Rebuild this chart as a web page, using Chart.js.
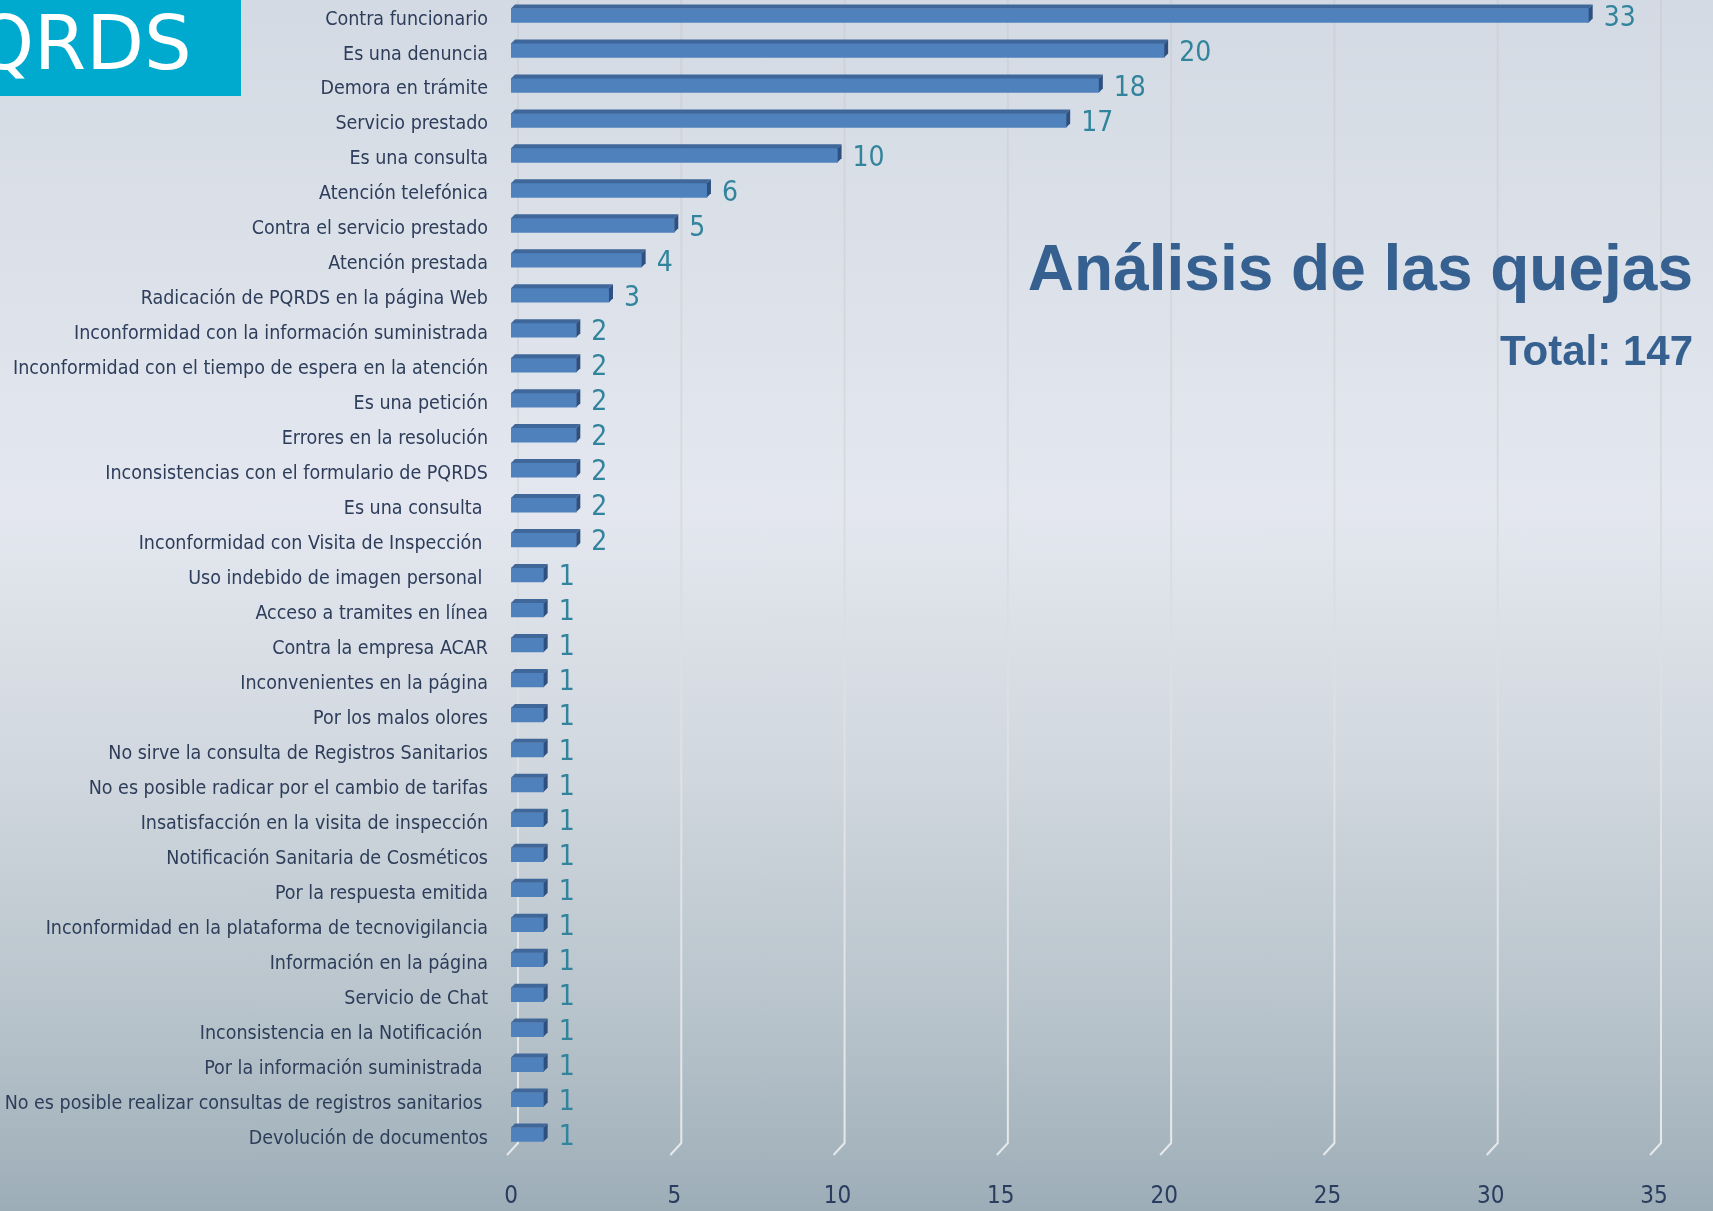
<!DOCTYPE html>
<html>
<head>
<meta charset="utf-8">
<script src="https://cdn.jsdelivr.net/npm/chart.js@4.4.1/dist/chart.umd.min.js"></script>
<style>
  html, body { margin: 0; padding: 0; }
  body {
    width: 1713px; height: 1211px; overflow: hidden; position: relative;
    background: linear-gradient(to bottom, #d3dae3 0%, #dde2ea 25%, #e4e7ef 42%, #cfd6dd 65%, #b6c2ca 85%, #9dadb7 100%);
  }
  #wrap { position: absolute; left: 0; top: -2px; width: 1713px; height: 1213px; }
  .badge {
    position: absolute; left: 0; top: 0; width: 241px; height: 96px;
    background: #00a9ce; overflow: hidden;
  }
  .badge span {
    position: absolute; left: -25px; top: -1px; line-height: 75px;
    font: 75px "DejaVu Sans", sans-serif; color: #fff; white-space: nowrap;
  }
  .title, .total {
    position: absolute; right: 20px; color: #35608f; white-space: nowrap;
    font-family: "Liberation Sans", Arial, sans-serif; font-weight: bold;
  }
  .title { top: 236px; font-size: 64px; line-height: 64px; }
  .total { top: 330px; font-size: 42px; line-height: 42px; }
</style>
</head>
<body>
<div id="wrap"><canvas id="chart"></canvas></div>
<div class="badge"><span>QRDS</span></div>
<div class="title">Análisis de las quejas</div>
<div class="total">Total: 147</div>
<script>
const categories = [
  "Contra funcionario",
  "Es una denuncia",
  "Demora en trámite",
  "Servicio prestado",
  "Es una consulta",
  "Atención telefónica",
  "Contra el servicio prestado",
  "Atención prestada",
  "Radicación de PQRDS en la página Web",
  "Inconformidad con la información suministrada",
  "Inconformidad con el tiempo de espera en la atención",
  "Es una petición",
  "Errores en la resolución",
  "Inconsistencias con el formulario de PQRDS",
  "Es una consulta ",
  "Inconformidad con Visita de Inspección ",
  "Uso indebido de imagen personal ",
  "Acceso a tramites en línea",
  "Contra la empresa ACAR",
  "Inconvenientes en la página",
  "Por los malos olores",
  "No sirve la consulta de Registros Sanitarios",
  "No es posible radicar por el cambio de tarifas",
  "Insatisfacción en la visita de inspección",
  "Notificación Sanitaria de Cosméticos",
  "Por la respuesta emitida",
  "Inconformidad en la plataforma de tecnovigilancia",
  "Información en la página",
  "Servicio de Chat",
  "Inconsistencia en la Notificación ",
  "Por la información suministrada ",
  "No es posible realizar consultas de registros sanitarios ",
  "Devolución de documentos"
]
const quejas = [33, 20, 18, 17, 10, 6, 5, 4, 3, 2, 2, 2, 2, 2, 2, 2,
                1, 1, 1, 1, 1, 1, 1, 1, 1, 1, 1, 1, 1, 1, 1, 1, 1]
const xTicks = [0, 5, 10, 15, 20, 25, 30, 35]

const NARROW = '"Liberation Sans Narrow", "DejaVu Sans Condensed", sans-serif'
const DEPTH = 4

// back-wall gridlines with the little slanted foot of the 3D floor
const gridPlugin = {
  id: "grid3d",
  beforeDatasetsDraw(chart) {
    const { ctx, chartArea, scales } = chart
    const g = ctx.createLinearGradient(0, chartArea.top, 0, chartArea.bottom)
    g.addColorStop(0, "#cdd2d8")
    g.addColorStop(0.5, "#d9dde2")
    g.addColorStop(1, "#e6e9eb")
    ctx.save()
    ctx.strokeStyle = g
    ctx.lineWidth = 2
    xTicks.forEach(v => {
      const x = scales.x.getPixelForValue(v) + 7
      ctx.beginPath()
      ctx.moveTo(x, chartArea.top)
      ctx.lineTo(x, chartArea.bottom - 9)
      ctx.lineTo(x - 11, chartArea.bottom + 3)
      ctx.stroke()
    })
    ctx.restore()
  }
}

// top and side faces of the bars, then the value labels
const barPlugin = {
  id: "bar3d",
  afterDatasetsDraw(chart) {
    const { ctx } = chart
    const meta = chart.getDatasetMeta(0)
    ctx.save()
    meta.data.forEach((bar, i) => {
      const { x, y, base, height } = bar.getProps(["x", "y", "base", "height"], true)
      const top = y - height / 2, bot = y + height / 2
      ctx.fillStyle = "#3f6799"
      ctx.beginPath()
      ctx.moveTo(base, top)
      ctx.lineTo(base + DEPTH, top - DEPTH)
      ctx.lineTo(x + DEPTH, top - DEPTH)
      ctx.lineTo(x, top)
      ctx.closePath()
      ctx.fill()
      ctx.fillStyle = "#2d5081"
      ctx.beginPath()
      ctx.moveTo(x, top)
      ctx.lineTo(x + DEPTH, top - DEPTH)
      ctx.lineTo(x + DEPTH, bot - DEPTH)
      ctx.lineTo(x, bot)
      ctx.closePath()
      ctx.fill()

      ctx.fillStyle = "#31849b"
      ctx.font = "28px " + NARROW
      ctx.textAlign = "left"
      ctx.textBaseline = "middle"
      ctx.fillText(String(quejas[i]), x + DEPTH + 11, y + 3)
    })
    ctx.restore()
  }
}

new Chart(document.getElementById("chart"), {
  type: "bar",
  data: {
    labels: categories,
    datasets: [{
      data: quejas,
      backgroundColor: "#4f81bd",
      borderWidth: 0,
      barThickness: 14,
      categoryPercentage: 1
    }]
  },
  options: {
    indexAxis: "y",
    responsive: true,
    maintainAspectRatio: false,
    animation: false,
    layout: { padding: { top: 0, right: 59, bottom: 0, left: 0 } },
    plugins: {
      legend: { display: false },
      tooltip: { enabled: false }
    },
    scales: {
      x: {
        min: 0,
        max: 35,
        border: { display: false },
        grid: { display: false, drawTicks: false },
        ticks: {
          stepSize: 5,
          padding: 30,
          color: "#2b3d5e",
          font: { family: NARROW, size: 24 }
        },
        afterFit: scale => { scale.height = 59 }
      },
      y: {
        border: { display: false },
        grid: { display: false, drawTicks: false },
        ticks: {
          autoSkip: false,
          padding: 23,
          labelOffset: 4,
          color: "#2d3d5a",
          font: { family: NARROW, size: 19.5 }
        },
        afterFit: scale => {
          scale.width = 511
          scale.paddingTop = 0
          scale.paddingBottom = 0
        }
      }
    }
  },
  plugins: [gridPlugin, barPlugin]
})
</script>
</body>
</html>
